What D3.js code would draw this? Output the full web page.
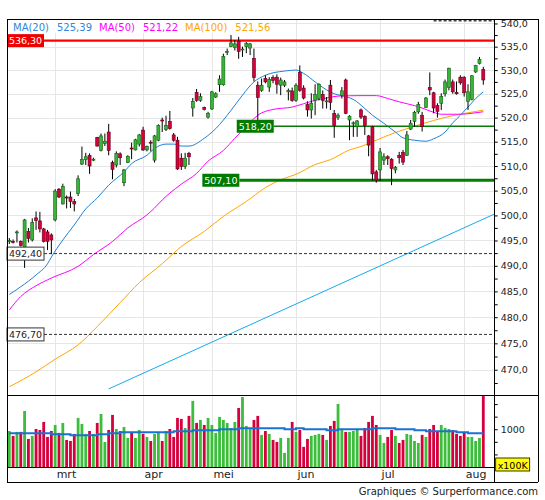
<!DOCTYPE html>
<html lang="nl">
<head>
<meta charset="utf-8">
<title>Koersgrafiek</title>
<script src="https://d3js.org/d3.v7.min.js"></script>
<style>
  body { margin: 0; background: #fff; }
  svg text { font-family: "DejaVu Sans", Verdana, sans-serif; }
</style>
</head>
<body>
<div id="chart"></div>
<script>
// dagkoersen, index 0 = half februari, laatste = begin augustus
const opens = [494.9,494.8,496.5,494.8,493.7,496.8,495.1,499.5,498.9,497.3,496.7,496.1,499.1,505.3,502.3,503.7,503.7,502.8,504.4,510.4,
  511.3,512.2,511.2,515.9,513.2,514.6,517.0,510.7,510.2,512.5,506.6,510.7,513.7,513.3,514.5,517.4,513.3,514.9,511.2,515.3,
  519.5,517.5,519.2,516.4,515.3,511.6,509.9,512.6,522.0,525.3,523.6,522.1,520.1,521.8,524.3,526.9,526.9,533.8,535.0,534.8,
  536.2,534.3,535.0,534.7,532.5,526.8,525.7,528.2,526.4,528.4,528.5,526.8,526.8,525.4,525.6,523.6,529.5,526.2,522.7,521.6,
  523.6,524.0,524.8,523.3,526.8,520.9,520.0,524.6,527.9,519.5,518.8,518.1,521.6,520.2,516.2,518.1,508.8,509.2,511.2,511.9,
  511.4,509.2,512.2,512.8,512.2,517.6,519.2,521.2,520.5,522.1,526.3,525.2,522.5,523.0,525.0,526.3,527.5,525.3,528.5,528.5,
  523.4,523.8,529.6,531.4,530.1];
const highs = [495.5,495.2,497.0,495.0,499.3,497.5,499.4,500.8,500.7,497.5,497.1,496.4,505.3,505.5,506.4,504.0,504.8,503.3,508.1,514.0,
  512.7,512.6,511.7,516.0,516.7,516.7,518.7,511.1,513.0,512.8,509.4,512.2,514.8,515.6,516.6,518.1,514.2,515.3,516.4,518.6,
  520.0,520.4,521.4,516.8,516.0,512.6,512.7,512.9,524.1,526.0,525.1,522.3,521.2,525.6,525.3,528.9,533.5,534.6,537.5,536.4,
  537.1,535.0,536.0,535.8,534.6,527.6,528.2,528.9,528.5,528.9,529.1,528.4,527.9,526.1,526.3,527.2,531.0,526.8,523.4,525.1,
  527.0,527.2,525.7,524.3,527.9,521.6,520.9,526.4,528.2,520.5,519.2,519.5,521.9,520.5,516.4,518.3,509.2,513.7,512.6,512.2,
  511.6,510.0,512.9,513.3,517.2,519.5,521.4,523.3,521.2,524.3,529.5,525.4,523.0,525.1,528.0,530.5,528.0,527.6,528.9,528.7,
  527.0,528.9,531.1,532.8,530.7];
const lows = [494.3,494.4,494.6,493.8,489.6,494.6,494.8,497.1,496.6,494.6,493.1,492.3,498.8,503.5,502.2,501.4,501.5,500.8,503.9,510.2,
  510.2,508.4,511.0,514.0,513.0,514.1,512.2,507.3,509.7,510.2,505.9,510.6,511.4,513.2,514.0,513.1,513.0,513.0,510.7,515.1,
  517.0,517.2,517.5,515.0,509.2,509.2,509.4,510.2,520.2,523.3,523.3,521.5,519.8,521.6,524.1,525.4,526.7,533.2,534.9,534.2,
  532.4,532.8,533.6,533.2,527.6,519.5,525.4,527.2,525.4,527.2,525.0,524.7,526.4,523.6,523.3,523.3,525.4,523.8,520.2,519.8,
  520.5,523.6,521.9,521.9,521.6,515.8,519.5,524.0,520.7,515.3,516.0,516.0,519.7,516.4,512.0,507.0,506.6,507.0,510.2,510.2,
  506.1,508.5,510.5,510.2,512.1,517.4,518.1,520.8,517.1,522.0,524.7,520.9,520.0,521.6,524.4,525.7,525.0,524.8,526.9,524.4,
  521.6,523.6,529.4,531.2,526.9];
const closes = [495.0,494.7,496.7,494.0,499.1,495.4,498.6,499.0,497.3,494.8,494.8,495.1,504.9,503.7,505.8,503.5,502.8,502.3,507.4,511.3,
  511.9,510.0,511.4,514.1,516.2,515.1,513.2,509.3,512.6,511.7,509.2,512.0,513.5,515.4,516.4,513.3,514.0,514.7,516.2,518.4,
  519.3,518.4,517.7,515.3,509.4,509.9,511.6,511.9,523.4,523.6,524.4,521.7,520.9,525.4,525.0,528.1,532.9,534.0,535.8,535.6,
  534.0,534.5,535.7,535.6,528.4,524.2,526.8,527.5,528.0,527.8,527.0,527.9,527.5,525.7,523.6,526.8,525.7,524.1,521.6,523.0,
  524.8,527.0,523.6,523.5,523.2,518.4,520.5,525.6,520.9,520.3,518.9,519.3,520.1,518.4,514.3,508.4,507.1,512.9,511.9,511.5,
  509.5,509.7,511.7,510.8,516.4,518.8,521.1,522.7,518.1,524.1,525.8,522.0,521.3,524.4,527.5,530.4,525.4,525.0,527.3,525.2,
  525.4,528.8,531.0,532.3,527.9];
// volume in eenheden van 100K
const volume = [986,947,979,979,1145,923,947,1002,994,1058,939,986,1034,971,1050,915,907,963,1090,1042,
  963,986,963,1050,1121,899,994,1114,1002,986,1018,931,971,931,994,963,939,907,963,971,
  907,986,1002,939,1090,1082,1010,1106,1225,1050,1074,1034,1090,1034,971,1098,1074,1050,1010,1058,
  1169,1256,1026,1002,1074,1106,955,986,963,915,899,931,812,931,1058,979,994,860,923,947,
  955,963,955,915,1026,1066,1201,994,979,979,986,994,947,1010,1058,1106,1034,955,891,939,
  994,947,891,915,963,955,907,891,955,939,1002,1034,986,1034,1010,1002,994,963,947,971,
  939,939,907,931,1264];
// gemiddeld volume, [dagindex, waarde]
const volAvg = [[0,968],[11,960],[16,952],[23,960],[26,968],[29,976],[43,984],[48,992],[55,1000],[60,1008],
  [72,1000],[75,1008],[77,1000],[83,992],[86,1000],[95,1008],[101,1000],[106,992],[109,984],[117,976],[120,968],[124,968]];

const months = ['mrt', 'apr', 'mei', 'jun', 'jul', 'aug'];
const monthStart = [12, 35, 53, 75, 97, 119];

const ma20 = [[0,484.4],[3,485.9],[7,488.2],[10,490.4],[11,491.7],[14,495.1],[17,498.1],[20,501.3],[23,503.5],[26,506.1],
  [30,508.8],[32,510.5],[36,512.2],[38,513.6],[41,514.5],[43,514.5],[45,514.1],[47,514.1],[51,515.7],[54,517.7],
  [58,521.5],[61,524.7],[64,527.5],[67,528.9],[72,529.8],[75,530.0],[77,529.3],[80,527.5],[83,525.8],[85,525.0],
  [88,524.4],[90,523.8],[93,521.9],[95,520.5],[98,518.8],[101,517.0],[103,515.8],[106,515.3],[109,515.1],[111,515.6],
  [114,517.0],[116,518.9],[118,520.5],[120,522.2],[122,524.0],[124,525.39]];
const ma50 = [[0,481.4],[3,484.0],[7,486.1],[11,487.6],[18,489.9],[22,492.2],[27,494.8],[31,497.5],[36,500.1],[38,501.5],
  [40,503.1],[42,504.5],[45,506.3],[49,508.5],[52,511.0],[56,513.2],[59,515.7],[63,519.0],[65,520.5],[69,521.7],
  [74,522.2],[77,522.9],[80,523.6],[83,524.1],[86,524.5],[92,524.6],[96,524.6],[99,524.0],[102,523.3],[106,522.5],
  [108,522.0],[111,521.1],[113,520.7],[118,520.7],[121,520.9],[124,521.22]];
const ma100 = [[0,466.8],[7,469.6],[12,472.0],[18,474.7],[23,478.2],[29,482.8],[34,486.7],[40,490.4],[45,493.8],[51,496.8],
  [56,499.8],[62,502.8],[67,505.6],[72,507.5],[75,508.3],[80,510.3],[84,511.3],[89,513.3],[92,514.0],[96,515.3],
  [101,516.9],[104,517.7],[108,518.7],[111,519.4],[116,520.4],[120,521.0],[124,521.56]];
// trendlijn, [dagindex, waarde]
const trend = [[26, 466.4], [127, 500.3]];

// horizontale niveaus
const levelValue = [536.30, 518.20, 507.10, 492.40, 476.70];
const levelStart = [null, 60, 51, null, null];
const topLevel = [540.6];
const topLevelStart = [111];

const legendName = ['MA(20)', 'MA(50)', 'MA(100)'];
const legendValue = [525.39, 521.22, 521.56];

const width = 545, height = 500;
const plotL = 7, axisX = 494.7, plotR = 538, plotT = 19;
const priceBottom = 395, volBottom = 467, plotB = 482;

const comma2 = v => d3.format('.2f')(v).replace('.', ',');
const comma1 = v => d3.format('.1f')(v).replace('.', ',');

const x = d3.scaleLinear().domain([0, opens.length - 1]).range([9.3, 483.3]);
const y = d3.scaleLog().domain([465.26, 540.97]).range([priceBottom, plotT]);
const yv = d3.scaleLinear().domain([700, 1272]).range([volBottom, priceBottom]);

const green = '#36b536', red = '#d6003c';

const svg = d3.select('#chart').append('svg')
    .attr('width', width)
    .attr('height', height);

svg.append('rect').attr('width', width).attr('height', height).attr('fill', '#fff');

const defs = svg.append('defs');
defs.append('clipPath').attr('id', 'clipPrice')
    .append('rect').attr('x', plotL).attr('y', plotT).attr('width', axisX - plotL).attr('height', priceBottom - plotT);
defs.append('clipPath').attr('id', 'clipVol')
    .append('rect').attr('x', plotL).attr('y', priceBottom).attr('width', axisX - plotL).attr('height', volBottom - priceBottom);

// raster
const majors = d3.range(470, 541, 5);
svg.append('g').selectAll('line')
    .data(majors)
    .enter().append('line')
    .attr('x1', plotL).attr('x2', axisX)
    .attr('y1', d => Math.round(y(d)) + 0.5).attr('y2', d => Math.round(y(d)) + 0.5)
    .attr('stroke', '#e6e6e6');

svg.append('g').selectAll('line')
    .data(monthStart)
    .enter().append('line')
    .attr('x1', d => Math.round(x(d)) + 0.5).attr('x2', d => Math.round(x(d)) + 0.5)
    .attr('y1', plotT).attr('y2', volBottom)
    .attr('stroke', '#e6e6e6');

// legenda achtergrond
svg.append('rect').attr('x', plotL + 1).attr('y', plotT + 1).attr('width', 262).attr('height', 13).attr('fill', '#fff');

const price = svg.append('g').attr('clip-path', 'url(#clipPrice)');

const line = d3.line().x(d => x(d[0])).y(d => y(d[1])).curve(d3.curveMonotoneX);

price.append('path').datum(trend).attr('d', d3.line().x(d => x(d[0])).y(d => y(d[1])))
    .attr('fill', 'none').attr('stroke', '#14aaf0').attr('stroke-width', 1);
price.append('path').datum(ma100).attr('d', line)
    .attr('fill', 'none').attr('stroke', '#ffa500').attr('stroke-width', 1);
price.append('path').datum(ma50).attr('d', line)
    .attr('fill', 'none').attr('stroke', '#ff00ff').attr('stroke-width', 1);
price.append('path').datum(ma20).attr('d', line)
    .attr('fill', 'none').attr('stroke', '#1f7fd6').attr('stroke-width', 1);

// niveaulijnen
const levelColor = ['#ff0000', '#0a780a', '#008000', '#333', '#333'];
const levelWidth = [2.2, 1.6, 2.8, 1, 1];
const levelDash = [null, null, null, '3,2', '3,2'];
const boxFill = ['#ee0000', '#007a00', '#007a00', '#fff', '#fff'];
const boxText = ['#fff', '#fff', '#fff', '#222', '#222'];
const boxW = 37, boxH = 13;

const levels = levelValue.map((v, i) => ({
    v: v,
    bx: levelStart[i] === null ? plotL : x(levelStart[i]) - 1.9,
    i: i
}));

price.append('g').selectAll('line')
    .data(levels)
    .enter().append('line')
    .attr('x1', d => d.bx + boxW).attr('x2', axisX)
    .attr('y1', d => y(d.v)).attr('y2', d => y(d.v))
    .attr('stroke', d => levelColor[d.i])
    .attr('stroke-width', d => levelWidth[d.i])
    .attr('stroke-dasharray', d => levelDash[d.i]);

price.append('g').selectAll('line')
    .data(topLevel)
    .enter().append('line')
    .attr('x1', (d, i) => x(topLevelStart[i])).attr('x2', axisX)
    .attr('y1', d => y(d)).attr('y2', d => y(d))
    .attr('stroke', '#444').attr('stroke-width', 1.5).attr('stroke-dasharray', '3,2');

// kaarsen
const days = d3.range(opens.length);
const candles = svg.append('g');
candles.selectAll('line')
    .data(days)
    .enter().append('line')
    .attr('x1', i => x(i)).attr('x2', i => x(i))
    .attr('y1', i => y(highs[i])).attr('y2', i => y(lows[i]))
    .attr('stroke', '#000').attr('stroke-width', 1);
candles.selectAll('rect')
    .data(days)
    .enter().append('rect')
    .attr('x', i => x(i) - 1.5)
    .attr('width', 3)
    .attr('y', i => y(Math.max(opens[i], closes[i])))
    .attr('height', i => Math.max(1, y(Math.min(opens[i], closes[i])) - y(Math.max(opens[i], closes[i]))))
    .attr('fill', i => closes[i] >= opens[i] ? green : red)
    .attr('stroke', i => closes[i] >= opens[i] ? '#145c14' : '#5c0018')
    .attr('stroke-width', 0.6);

// labels bij niveaus
const boxes = svg.append('g').selectAll('g')
    .data(levels)
    .enter().append('g');
boxes.append('rect')
    .attr('x', d => d.bx).attr('y', d => y(d.v) - boxH / 2)
    .attr('width', boxW).attr('height', boxH)
    .attr('fill', d => boxFill[d.i])
    .attr('stroke', d => d.i > 2 ? '#333' : 'none');
boxes.append('text')
    .attr('x', d => d.bx + boxW / 2).attr('y', d => y(d.v) + 3.6)
    .attr('text-anchor', 'middle')
    .attr('font-size', '9.5px')
    .attr('fill', d => boxText[d.i])
    .text(d => comma2(d.v));

// volume
const vol = svg.append('g').attr('clip-path', 'url(#clipVol)');
vol.selectAll('rect')
    .data(days)
    .enter().append('rect')
    .attr('x', i => x(i) - 1.4)
    .attr('width', 2.8)
    .attr('y', i => yv(volume[i]))
    .attr('height', i => volBottom - yv(volume[i]))
    .attr('fill', i => closes[i] >= opens[i] ? '#3cbd3c' : red);
vol.append('path').datum(volAvg)
    .attr('d', d3.line().x(d => x(d[0])).y(d => yv(d[1])).curve(d3.curveStepAfter))
    .attr('fill', 'none').attr('stroke', '#1a72d4').attr('stroke-width', 2);

// legenda
let lx = 13;
legendName.forEach((name, i) => {
    const col = ['#2f86dc', '#ff00ff', '#ffa500'][i];
    const t1 = svg.append('text').attr('x', lx).attr('y', 30.5)
        .attr('font-size', '10px').attr('fill', col).text(name);
    lx += t1.node().getComputedTextLength() + 8;
    const t2 = svg.append('text').attr('x', lx).attr('y', 30.5)
        .attr('font-size', '10px').attr('fill', col).text(comma2(legendValue[i]));
    lx += t2.node().getComputedTextLength() + 7;
});

// assen
const yAxis = d3.axisRight(y)
    .tickValues(d3.range(467.5, 540.1, 2.5))
    .tickSize(3).tickSizeOuter(0).tickPadding(3)
    .tickFormat(d => Math.round(d * 10) % 50 === 0 ? comma1(d) : '');
const gy = svg.append('g').attr('transform', `translate(${axisX},0)`).call(yAxis);
gy.select('.domain').remove();
gy.selectAll('text').attr('font-size', '9.5px').attr('fill', '#222').attr('font-family', '"DejaVu Sans", Verdana, sans-serif');

const vAxis = d3.axisRight(yv)
    .tickValues([800, 900, 1000, 1100, 1200])
    .tickSize(3).tickSizeOuter(0).tickPadding(3)
    .tickFormat(d => d === 1000 ? '1000' : '');
const gv = svg.append('g').attr('transform', `translate(${axisX},0)`).call(vAxis);
gv.select('.domain').remove();
gv.selectAll('text').attr('font-size', '9.5px').attr('fill', '#222').attr('font-family', '"DejaVu Sans", Verdana, sans-serif');

svg.append('rect').attr('x', axisX + 1).attr('y', 458).attr('width', 34).attr('height', 13)
    .attr('fill', '#ffff00').attr('stroke', '#000').attr('stroke-width', 0.8);
svg.append('text').attr('x', axisX + 18).attr('y', 468.5).attr('text-anchor', 'middle')
    .attr('font-size', '9.5px').attr('fill', '#000').text('x100K');

// maanden
svg.append('g').selectAll('text')
    .data(months)
    .enter().append('text')
    .attr('x', (d, i) => x(monthStart[i]) + 1.5)
    .attr('y', 478)
    .attr('font-size', '11px')
    .attr('fill', '#222')
    .text(d => d);

// kader
const frame = svg.append('g').attr('stroke', '#000').attr('stroke-width', 1).attr('shape-rendering', 'crispEdges');
[[plotL, plotT, plotR, plotT], [plotL, priceBottom, plotR, priceBottom], [plotL, volBottom, axisX, volBottom],
 [plotL, plotB, plotR, plotB], [plotL, plotT, plotL, plotB], [axisX, plotT, axisX, plotB], [plotR, plotT, plotR, plotB]]
    .forEach(s => frame.append('line').attr('x1', s[0]).attr('y1', s[1]).attr('x2', s[2]).attr('y2', s[3]));

svg.append('text').attr('x', plotR).attr('y', 494.5).attr('text-anchor', 'end')
    .attr('font-size', '10px').attr('fill', '#222')
    .text('Graphiques © Surperformance.com');
</script>
</body>
</html>
